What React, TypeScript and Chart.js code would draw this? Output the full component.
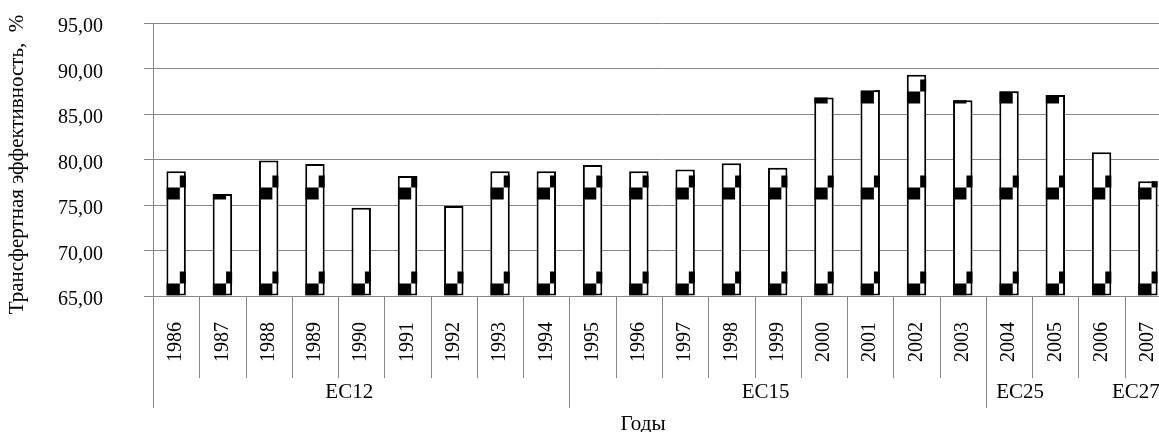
import React, { useEffect, useRef } from 'react';
import { Chart, registerables } from 'chart.js';

Chart.register(...registerables);

const years = ['1986', '1987', '1988', '1989', '1990', '1991', '1992', '1993', '1994', '1995', '1996', '1997', '1998', '1999', '2000', '2001', '2002', '2003', '2004', '2005', '2006', '2007'];
const efficiency = [78.7, 76.2, 79.9, 79.5, 74.7, 78.2, 74.9, 78.7, 78.7, 79.4, 78.7, 78.9, 79.6, 79.1, 86.8, 87.6, 89.3, 86.5, 87.5, 87.1, 80.8, 77.6];
const yMin = 65;
const yMax = 95;
const yStep = 5;
const groupNames = ['EC12', 'EC15', 'EC25', 'EC27'];
const groupFirst = [0, 9, 18, 21];
const groupLast = [8, 17, 19, 21];
const longSeparators = [0, 9, 18];
const yTitle = 'Трансфертная эффективность,  %';
const xTitle = 'Годы';

const FONT = "'Liberation Serif', 'Times New Roman', serif";
const GRID = '#878787';

const patternPlugin = {
  id: 'barPattern',
  afterDatasetsDraw(chart: any) {
    const ctx = chart.ctx;
    const meta = chart.getDatasetMeta(0);
    const cell = 12;
    const cellW = 13.4;
    const rows = 8;
    meta.data.forEach((el: any) => {
      const { x, y, base, width } = el.getProps(['x', 'y', 'base', 'width'], true);
      const left = x - width / 2;
      ctx.save();
      ctx.beginPath();
      ctx.rect(left, y, width, base - y);
      ctx.clip();
      ctx.fillStyle = '#000';
      for (let yb = base; yb > y; yb -= cell * rows) {
        for (let k = 0; k < rows; k++) {
          ctx.fillRect(left + k * cellW, yb - (k + 1) * cell, cellW, cell);
        }
      }
      ctx.restore();
    });
  },
};

const decorPlugin = {
  id: 'decor',
  afterDraw(chart: any) {
    const ctx = chart.ctx;
    const xs = chart.scales.x;
    const area = chart.chartArea;
    const n = years.length;
    const step = xs.getPixelForValue(1) - xs.getPixelForValue(0);
    const edge = (i: number) => xs.getPixelForValue(0) - step / 2 + i * step;
    ctx.save();
    ctx.strokeStyle = GRID;
    ctx.lineWidth = 1;
    for (let i = 0; i <= n; i++) {
      const len = longSeparators.includes(i) || i === n ? 112 : 82;
      const px = Math.round(edge(i)) + 0.5;
      ctx.beginPath();
      ctx.moveTo(px, area.bottom);
      ctx.lineTo(px, area.bottom + len);
      ctx.stroke();
    }
    ctx.fillStyle = '#000';
    ctx.font = `21px ${FONT}`;
    ctx.textAlign = 'center';
    ctx.textBaseline = 'alphabetic';
    groupNames.forEach((name, g) => {
      const cx = (edge(groupFirst[g]) + edge(groupLast[g] + 1)) / 2 - 12;
      ctx.fillText(name, cx, area.bottom + 102);
    });
    ctx.fillText(xTitle, (area.left + area.right) / 2 - 19, area.bottom + 134);
    ctx.translate(23, (area.top + area.bottom) / 2 + 5);
    ctx.rotate(-Math.PI / 2);
    ctx.fillText(yTitle, 0, 0);
    ctx.restore();
  },
};

export default function App() {
  const ref = useRef<HTMLCanvasElement>(null);
  useEffect(() => {
    if (!ref.current) return;
    const chart = new Chart(ref.current, {
      type: 'bar',
      data: {
        labels: years,
        datasets: [
          {
            data: efficiency,
            base: yMin,
            backgroundColor: '#ffffff',
            borderColor: '#000000',
            borderWidth: 2,
            borderSkipped: false,
            categoryPercentage: 1,
            barPercentage: 0.42,
          },
        ],
      },
      options: {
        responsive: false,
        animation: false,
        events: [],
        layout: { padding: { top: 23, left: 0, right: 0, bottom: 0 } },
        plugins: { legend: { display: false }, tooltip: { enabled: false } },
        scales: {
          x: {
            offset: true,
            grid: { display: false, drawTicks: false },
            border: { display: true, color: GRID, width: 1 },
            ticks: {
              autoSkip: false,
              minRotation: 90,
              maxRotation: 90,
              padding: 26,
              color: '#000',
              font: { family: FONT, size: 20 },
            },
            afterFit: (s: any) => {
              s.height = 136;
              s.paddingLeft = 0;
              s.paddingRight = 0;
            },
          },
          y: {
            min: yMin,
            max: yMax,
            grid: { color: GRID, tickColor: GRID, tickLength: 9, drawTicks: true },
            border: { display: true, color: GRID, width: 1 },
            ticks: {
              stepSize: yStep,
              padding: 41,
              labelOffset: 4,
              color: '#000',
              font: { family: FONT, size: 20 },
              callback: (v: any) => Number(v).toFixed(2).replace('.', ','),
            },
            afterFit: (s: any) => {
              s.width = 153;
              s.paddingTop = 0;
              s.paddingBottom = 0;
            },
          },
        },
      },
      plugins: [patternPlugin, decorPlugin],
    });
    return () => chart.destroy();
  }, []);
  return (
    <div style={{ position: 'absolute', left: 0, top: 0, width: 1159, height: 432, overflow: 'hidden', background: '#fff' }}>
      <canvas ref={ref} width={1171} height={432} style={{ display: 'block', width: 1171, height: 432 }} />
    </div>
  );
}
